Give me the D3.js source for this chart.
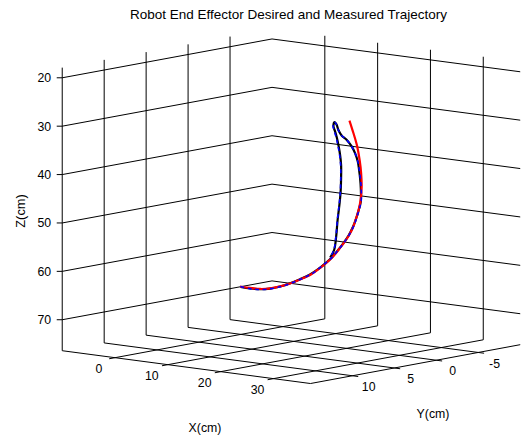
<!DOCTYPE html>
<html>
<head>
<meta charset="utf-8">
<script src="https://cdn.jsdelivr.net/npm/d3@7"></script>
<style>
  body { margin: 0; background: #fff; }
  text { font-family: "Liberation Sans", Arial, sans-serif; fill: #000; }
</style>
</head>
<body>
<div id="main"></div>
<script>
// axis limits and ticks (cm)
var xLim = [-10, 37];
var yLim = [-10, 15];
var zLim = [17.9, 76.4];
var xTicks = [0, 10, 20, 30];
var yTicks = [-5, 0, 5, 10];
var zTicks = [20, 30, 40, 50, 60, 70];

// trajectories, [x, y, z] in cm
var desired = [
  [-0.16, 0, 66.52], [1.74, 0, 66.55], [3.63, 0, 66.49], [5.53, 0, 66.11],
  [7.42, 0, 65.42], [9.31, 0, 64.53], [11.21, 0, 63.43], [13.10, 0, 62.23],
  [14.62, 0, 60.87], [15.94, 0, 59.55], [17.27, 0, 58.01], [18.31, 0, 56.52],
  [19.35, 0, 54.92], [20.39, 0, 53.12], [21.25, 0, 51.14], [21.81, 0, 49.30],
  [22.29, 0, 47.47], [22.67, 0, 45.36], [22.86, 0, 42.64], [22.76, 0, 39.76],
  [22.48, 0, 37.12], [22.00, 0, 34.29], [21.30, 0, 31.71], [20.55, 0, 29.24]
];

var measured = [
  [-0.06, 0, 66.61], [1.74, 0, 66.66], [3.63, 0, 66.55], [5.53, 0, 66.15],
  [7.42, 0, 65.44], [9.31, 0, 64.49], [11.21, 0, 63.37], [13.10, 0, 62.13],
  [14.62, 0, 60.81], [15.94, 0, 59.47], [17.27, 0, 57.95], [18.31, 0, 56.44],
  [19.35, 0, 54.84], [20.39, 0, 53.02], [21.25, 0, 51.04], [21.85, 0, 49.19],
  [22.33, 0, 47.37], [22.70, 0, 45.70], [22.70, 0, 42.93], [22.57, 0, 40.89],
  [22.38, 0, 39.20], [22.14, 0, 37.52], [21.63, 0, 35.86], [21.00, 0, 34.58],
  [20.05, 0, 33.33], [19.11, 0, 32.58], [18.46, 0, 31.50], [18.12, 0, 30.41],
  [17.74, 0, 29.95], [17.52, 0, 30.81], [17.84, 0, 31.90], [18.18, 0, 33.19],
  [18.50, 0, 34.80], [18.78, 0, 36.62], [18.97, 0, 38.66], [18.97, 0, 41.34],
  [18.88, 0, 44.25], [18.69, 0, 46.55], [18.31, 0, 50.12], [18.03, 0, 53.67],
  [17.65, 0, 56.41], [16.89, 0, 58.07]
];

var measured2 = [
  [-0.10, 0, 66.50], [1.70, 0, 66.70], [3.60, 0, 66.62], [5.50, 0, 66.20],
  [7.40, 0, 65.50], [9.30, 0, 64.56], [11.20, 0, 63.42], [13.10, 0, 62.20],
  [14.60, 0, 60.86], [15.90, 0, 59.50], [17.25, 0, 58.00], [18.30, 0, 56.50],
  [19.38, 0, 54.86], [20.42, 0, 53.05], [21.30, 0, 51.06], [21.90, 0, 49.20],
  [22.38, 0, 47.38], [22.76, 0, 45.70], [22.78, 0, 42.95], [22.62, 0, 40.90],
  [22.42, 0, 39.22], [22.15, 0, 37.50], [21.62, 0, 35.85], [20.98, 0, 34.55],
  [20.02, 0, 33.30], [19.08, 0, 32.55], [18.42, 0, 31.48], [18.08, 0, 30.40],
  [17.70, 0, 29.95], [17.45, 0, 30.80], [17.72, 0, 31.90], [18.06, 0, 33.20],
  [18.38, 0, 34.80], [18.68, 0, 36.60], [18.88, 0, 38.66], [18.90, 0, 41.34],
  [18.82, 0, 44.25], [18.64, 0, 46.55], [18.27, 0, 50.12], [17.98, 0, 53.67],
  [17.60, 0, 56.41], [16.86, 0, 58.07]
];

var width = 521;
var height = 438;

var svg = d3.select('#main')
  .append('svg')
  .attr('width', width)
  .attr('height', height);

// box scales (world pixels), z axis runs downward (reversed)
var xs = d3.scaleLinear().domain(xLim).range([0, 325]);
var ys = d3.scaleLinear().domain(yLim).range([0, 325]);
var zs = d3.scaleLinear().domain(zLim).range([0, 286.6]);

// orthographic view
var az = 40.2 * Math.PI / 180;
var el = 9 * Math.PI / 180;
var origin = [272, 28.8];

function proj(p) {
  var u = xs(p[0]), v = ys(p[1]), w = zs(p[2]);
  return [
    origin[0] + Math.cos(az) * u - Math.sin(az) * v,
    origin[1] + Math.sin(el) * (Math.sin(az) * u + Math.cos(az) * v) + Math.cos(el) * w
  ];
}

var x0 = xLim[0], x1 = xLim[1], y0 = yLim[0], y1 = yLim[1], z0 = zLim[0], z1 = zLim[1];

// grid segments on the back walls and the floor
var grid = [];
zTicks.forEach(function(z) {
  grid.push([[x0, y1, z], [x0, y0, z]]);
  grid.push([[x0, y0, z], [x1, y0, z]]);
});
yTicks.forEach(function(y) {
  grid.push([[x0, y, z0], [x0, y, z1]]);
  grid.push([[x0, y, z1], [x1, y, z1]]);
});
xTicks.forEach(function(x) {
  grid.push([[x, y0, z0], [x, y0, z1]]);
  grid.push([[x, y0, z1], [x, y1, z1]]);
});

var axesLines = [
  [[x0, y1, z0], [x0, y1, z1]],
  [[x0, y1, z1], [x1, y1, z1]],
  [[x1, y1, z1], [x1, y0, z1]]
];

var seg = d3.line()
  .x(function(d) { return proj(d)[0]; })
  .y(function(d) { return proj(d)[1]; });

svg.append('g')
  .selectAll('path')
  .data(grid.concat(axesLines))
  .enter().append('path')
  .attr('d', seg)
  .attr('fill', 'none')
  .attr('stroke', '#000')
  .attr('stroke-width', 1);

// tick marks
var ticks = svg.append('g').attr('stroke', '#000').attr('stroke-width', 1).attr('fill', 'none');

ticks.selectAll('.zt')
  .data(zTicks)
  .enter().append('line')
  .attr('x1', function(d) { return proj([x0, y1, d])[0]; })
  .attr('y1', function(d) { return proj([x0, y1, d])[1]; })
  .attr('x2', function(d) { return proj([x0, y1, d])[0] - 5.5; })
  .attr('y2', function(d) { return proj([x0, y1, d])[1]; });

ticks.selectAll('.xt')
  .data(xTicks)
  .enter().append('path')
  .attr('d', function(d) { return seg([[d, y1, z1], [d, y1 + 0.7, z1]]); });

ticks.selectAll('.yt')
  .data(yTicks)
  .enter().append('path')
  .attr('d', function(d) { return seg([[x1, d, z1], [x1 + 1.1, d, z1]]); });

// tick labels
var lab = svg.append('g').style('font-size', '12.3px');

lab.selectAll('.zl')
  .data(zTicks)
  .enter().append('text')
  .attr('x', function(d) { return proj([x0, y1, d])[0] - 11; })
  .attr('y', function(d) { return proj([x0, y1, d])[1]; })
  .attr('dy', '0.36em')
  .attr('text-anchor', 'end')
  .text(function(d) { return String(d); });

lab.selectAll('.xl')
  .data(xTicks)
  .enter().append('text')
  .attr('x', function(d) { return proj([d, y1, z1])[0] - 16; })
  .attr('y', function(d) { return proj([d, y1, z1])[1] + 10.7; })
  .attr('dy', '0.36em')
  .attr('text-anchor', 'middle')
  .text(function(d) { return String(d); });

lab.selectAll('.yl')
  .data(yTicks)
  .enter().append('text')
  .attr('x', function(d) { return proj([x1, d, z1])[0] + 16.3; })
  .attr('y', function(d) { return proj([x1, d, z1])[1] + 10.8; })
  .attr('dy', '0.36em')
  .attr('text-anchor', 'middle')
  .text(function(d) { return String(d); });

// axis labels and title
svg.append('text')
  .attr('x', 205).attr('y', 431.5)
  .attr('text-anchor', 'middle')
  .style('font-size', '12.3px')
  .text('X(cm)');

svg.append('text')
  .attr('x', 433).attr('y', 418)
  .attr('text-anchor', 'middle')
  .style('font-size', '12.3px')
  .text('Y(cm)');

svg.append('text')
  .attr('transform', 'translate(25,211) rotate(-90)')
  .attr('text-anchor', 'middle')
  .style('font-size', '12.8px')
  .text('Z(cm)');

svg.append('text')
  .attr('x', 288.5).attr('y', 19.3)
  .attr('text-anchor', 'middle')
  .style('font-size', '13.5px')
  .text('Robot End Effector Desired and Measured Trajectory');

// trajectories
var curve = d3.line()
  .x(function(d) { return proj(d)[0]; })
  .y(function(d) { return proj(d)[1]; })
  .curve(d3.curveCatmullRom.alpha(0.5));

svg.append('path')
  .datum(measured)
  .attr('d', curve)
  .attr('fill', 'none')
  .attr('stroke', '#000')
  .attr('stroke-width', 2.2);

svg.append('path')
  .datum(desired)
  .attr('d', curve)
  .attr('fill', 'none')
  .attr('stroke', '#ff0000')
  .attr('stroke-width', 2.2);

svg.append('path')
  .datum(measured2)
  .attr('d', curve)
  .attr('fill', 'none')
  .attr('stroke', '#0000ff')
  .attr('stroke-width', 1.6)
  .attr('stroke-dasharray', '4,3.5');
</script>
</body>
</html>
